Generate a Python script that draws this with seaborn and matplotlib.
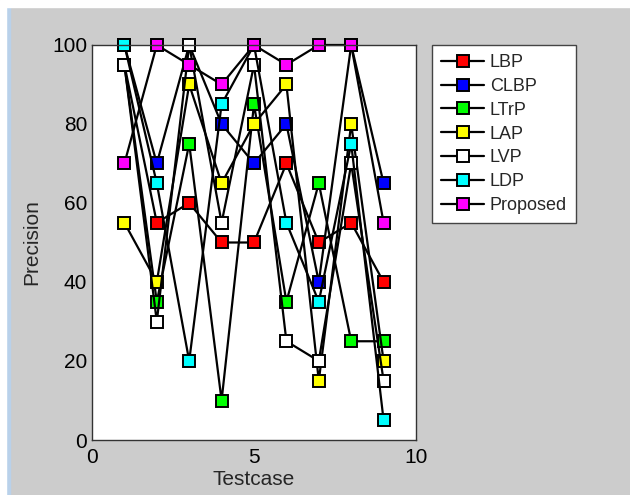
import numpy as np
import pandas as pd
import matplotlib
matplotlib.use('Agg')
import matplotlib.pyplot as plt
from matplotlib.patches import Rectangle
import seaborn as sns

# Datos
testcase = [1, 2, 3, 4, 5, 6, 7, 8, 9]
lbp      = [95, 55, 60, 50, 50, 70, 50, 55, 40]
clbp     = [100, 70, 100, 80, 70, 80, 40, 100, 65]
ltrp     = [95, 35, 75, 10, 85, 35, 65, 25, 25]
lap      = [55, 40, 90, 65, 80, 90, 15, 80, 20]
lvp      = [95, 30, 100, 55, 95, 25, 20, 70, 15]
ldp      = [100, 65, 20, 85, 100, 55, 35, 75, 5]
proposed = [70, 100, 95, 90, 100, 95, 100, 100, 55]

nombres = ['LBP', 'CLBP', 'LTrP', 'LAP', 'LVP', 'LDP', 'Proposed']
series = [lbp, clbp, ltrp, lap, lvp, ldp, proposed]
colores = ['#ff0000', '#0000ff', '#00ff00', '#ffff00', '#ffffff', '#00ffff', '#ff00ff']

sns.set_style('white')
plt.rcParams['font.family'] = ['Liberation Sans', 'DejaVu Sans']

fig = plt.figure(figsize=(6.3, 4.95), dpi=100, facecolor='#cccccc')
# borde blanco/azul de la captura
fig.patches.append(Rectangle((0, 0), 10 / 630, 1, transform=fig.transFigure, color='#b9d1ea', zorder=-1))
fig.patches.append(Rectangle((0, 0), 6 / 630, 1, transform=fig.transFigure, color='white', zorder=-1))
fig.patches.append(Rectangle((0, 1 - 7 / 495), 1, 7 / 495, transform=fig.transFigure, color='white', zorder=-1))

ax = fig.add_axes([92 / 630, 1 - 440 / 495, 324 / 630, 395 / 495])

for nombre, valores, c in zip(nombres, series, colores):
    df = pd.DataFrame({'Testcase': testcase, 'Precision': valores})
    sns.lineplot(data=df, x='Testcase', y='Precision', ax=ax, color='black', linewidth=1.6,
                 marker='s', markersize=8.5, markerfacecolor=c, markeredgecolor='black',
                 markeredgewidth=1.4, label=nombre, clip_on=False)

ax.set_xlim(0, 10)
ax.set_ylim(0, 100)
ax.set_xticks([0, 5, 10])
ax.set_yticks([0, 20, 40, 60, 80, 100])
ax.tick_params(direction='in', length=4, labelsize=15, colors='black', width=0.8)
ax.tick_params(axis='x', pad=6)
for s in ax.spines.values():
    s.set_color('#333333')
    s.set_linewidth(1)
ax.set_xlabel('Testcase', fontsize=15, labelpad=2)
ax.set_ylabel('Precision', fontsize=15, labelpad=8)

leg = ax.legend(loc='upper left', bbox_to_anchor=(432 / 630, 1 - 45 / 495), bbox_transform=fig.transFigure,
                fontsize=13, frameon=True, fancybox=False, edgecolor='#444444', framealpha=1,
                borderaxespad=0, handlelength=2.4, handletextpad=0.3, labelspacing=0.38,
                borderpad=0.5)
leg.get_frame().set_linewidth(1)

fig.savefig('out.png', dpi=100, facecolor=fig.get_facecolor())
